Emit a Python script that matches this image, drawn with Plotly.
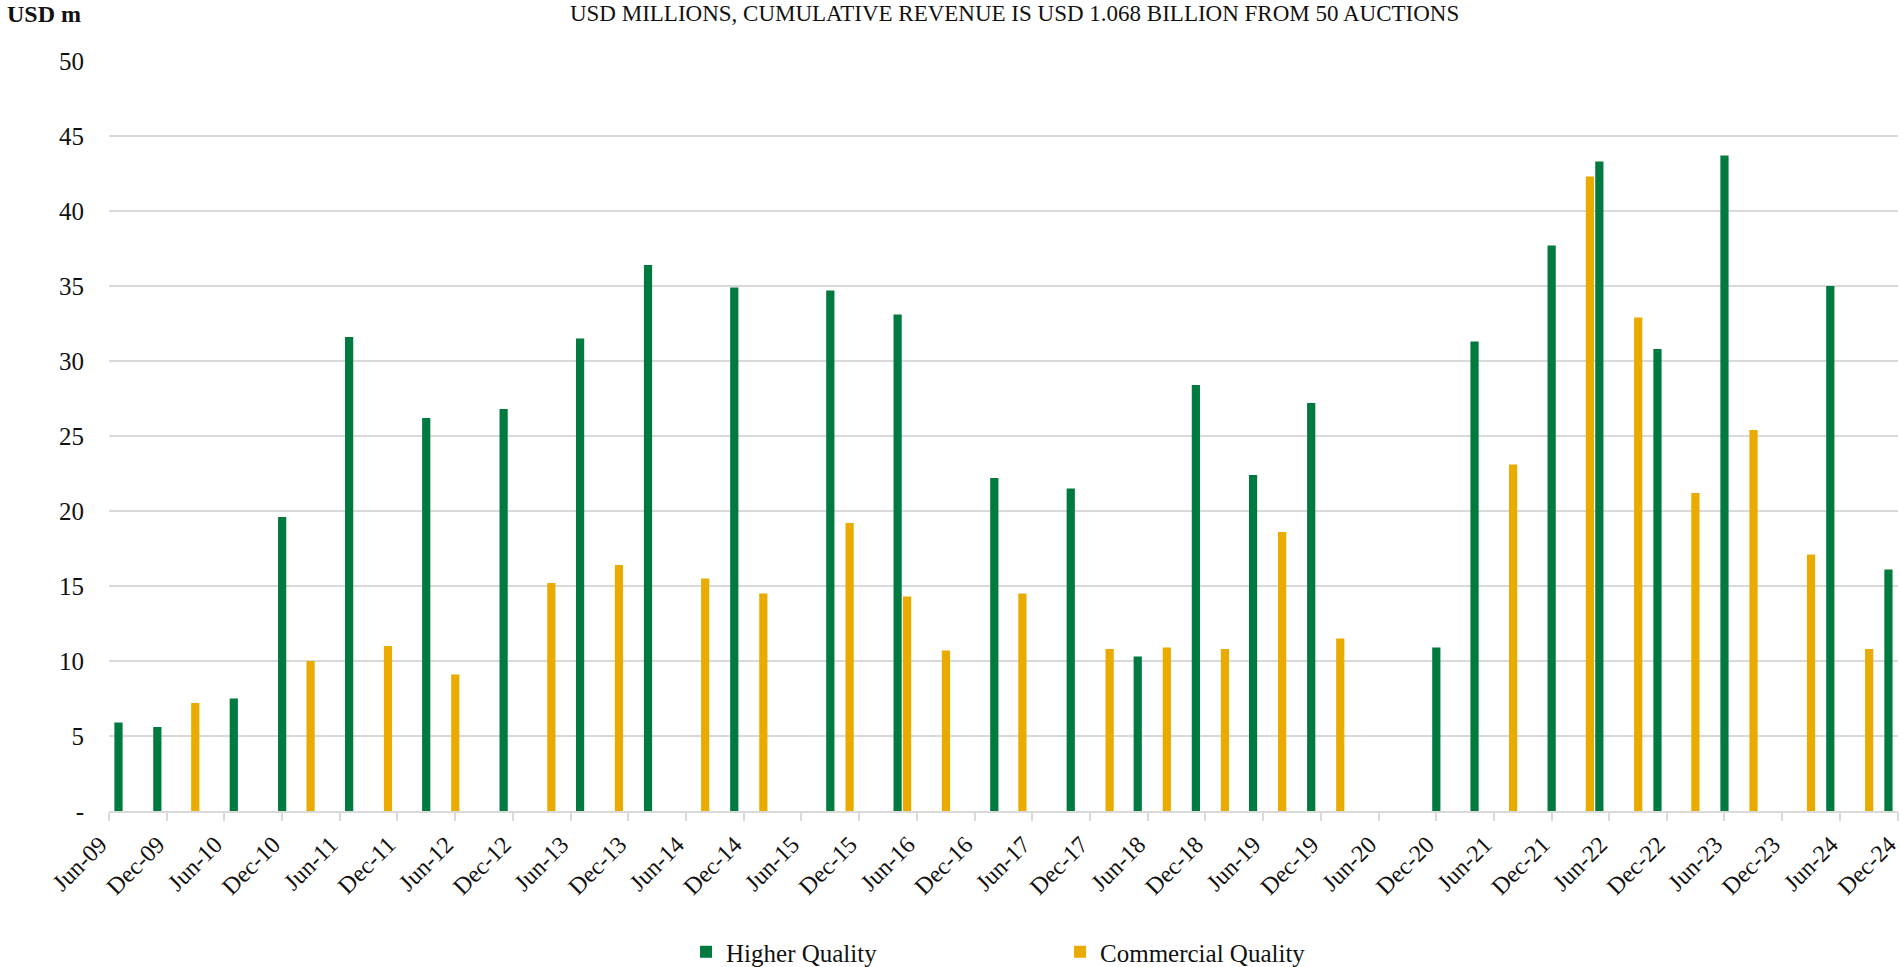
import plotly.graph_objects as go

# Higher Quality auctions (month, USD m)
hq_dates = ["2009-07", "2009-11", "2010-07", "2010-12", "2011-07", "2012-03", "2012-11",
            "2013-07", "2014-02", "2014-11", "2015-09", "2016-04", "2017-02", "2017-10",
            "2018-05", "2018-11", "2019-05", "2019-11", "2020-12", "2021-04", "2021-12",
            "2022-05", "2022-11", "2023-06", "2024-05", "2024-11"]
hq_values = [5.9, 5.6, 7.5, 19.6, 31.6, 26.2, 26.8,
             31.5, 36.4, 34.9, 34.7, 33.1, 22.2, 21.5,
             10.3, 28.4, 22.4, 27.2, 10.9, 31.3, 37.7,
             43.3, 30.8, 43.7, 35.0, 16.1]

# Commercial Quality auctions (month, USD m)
cq_dates = ["2010-03", "2011-03", "2011-11", "2012-06", "2013-04", "2013-11", "2014-08",
            "2015-02", "2015-11", "2016-05", "2016-09", "2017-05", "2018-02", "2018-08",
            "2019-02", "2019-08", "2020-02", "2021-08", "2022-04", "2022-09", "2023-03",
            "2023-09", "2024-03", "2024-09"]
cq_values = [7.2, 10.0, 11.0, 9.1, 15.2, 16.4, 15.5,
             14.5, 19.2, 14.3, 10.7, 14.5, 10.8, 10.9,
             10.8, 18.6, 11.5, 23.1, 42.3, 32.9, 21.2,
             25.4, 17.1, 10.8]

# x-axis tick labels (every 6 months)
tick_dates = []
tick_labels = []
for yr in range(2009, 2025):
    for mo, name in ((6, "Jun"), (12, "Dec")):
        tick_dates.append(f"{yr}-{mo:02d}-01")
        tick_labels.append(f"{name}-{yr % 100:02d}")

y_ticks = [0, 5, 10, 15, 20, 25, 30, 35, 40, 45, 50]
y_labels = ["-"] + [str(v) for v in y_ticks[1:]]

GREEN = "#007A3E"
GOLD = "#EAAB00"
FONT = "Liberation Serif"
bar_w = 26 * 24 * 3600 * 1000

fig = go.Figure()
fig.add_trace(go.Bar(x=[d + "-01" for d in hq_dates], y=hq_values, name="Higher Quality",
                     marker=dict(color=GREEN, line=dict(width=0)), width=bar_w))
fig.add_trace(go.Bar(x=[d + "-01" for d in cq_dates], y=cq_values, name="Commercial Quality",
                     marker=dict(color=GOLD, line=dict(width=0)), width=bar_w))

fig.update_layout(
    width=1900, height=967,
    barmode="overlay",
    plot_bgcolor="white", paper_bgcolor="white",
    margin=dict(l=109, r=2, t=61, b=156, autoexpand=False),
    font=dict(family=FONT, color="#111111", size=20),
    title=dict(text="USD MILLIONS, CUMULATIVE REVENUE IS USD 1.068 BILLION FROM 50 AUCTIONS",
               x=0.534, xanchor="center", y=0.987, yanchor="middle",
               font=dict(family=FONT, size=23, color="#111111")),
    showlegend=True,
    legend=dict(orientation="h", x=0.5316, xanchor="center",
                yref="container", y=0.0155, yanchor="middle",
                entrywidth=329, entrywidthmode="pixels", font=dict(size=25, family=FONT),
                traceorder="normal", itemwidth=30),
    xaxis=dict(type="date", range=["2009-06-01", "2024-12-01 06:00"],
               tickmode="array", tickvals=tick_dates, ticktext=tick_labels,
               tickangle=-45, tickfont=dict(size=24, family=FONT),
               ticklabeloverflow="allow", automargin=False, ticklabelshift=-9,
               showgrid=False, showline=True, linecolor="#d9d9d9", linewidth=2,
               ticks="outside", ticklen=8, tickcolor="#d9d9d9", tickwidth=2),
    yaxis=dict(range=[0, 50], tickmode="array", tickvals=y_ticks, ticktext=y_labels,
               tickfont=dict(size=25, family=FONT), showgrid=True, gridcolor="#d9d9d9",
               gridwidth=1.5, zeroline=False, showline=False, ticks="",
               ticklabelstandoff=24, automargin=False),
    annotations=[dict(text="<b>USD m</b>", xref="paper", yref="paper",
                      x=-0.058, y=1.062, xanchor="left", yanchor="middle",
                      showarrow=False, font=dict(size=24, family=FONT, color="#111111"))],
)

fig.write_html("out.html", config={"displayModeBar": False},
               post_script="document.body.style.margin='0';document.body.style.overflow='hidden';")
